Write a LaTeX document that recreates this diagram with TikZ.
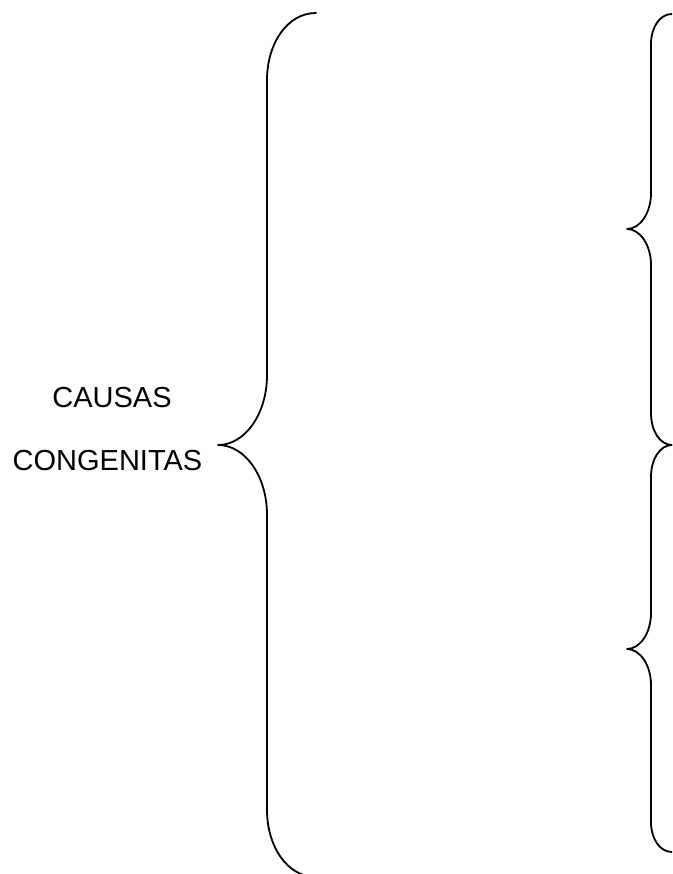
\documentclass[tikz,border=0pt]{standalone}
\usepackage{fontspec}
\setmainfont{Liberation Sans}
\begin{document}
\begin{tikzpicture}[x=1pt,y=-1pt,
  bracestyle/.style={line width=1.8pt,line join=round,line cap=round},
  labelstyle/.style={font=\fontsize{29}{34}\selectfont,anchor=base,inner sep=0pt}]
\useasboundingbox (0,0) rectangle (672,874);
\clip (0,0) rectangle (672,874);
% labels
\node[labelstyle] (causas) at (112,407) {CAUSAS};
\node[labelstyle] (congenitas) at (107.5,470) {CONGENITAS};
% large left brace
\draw[bracestyle] (316,13) .. controls (287,13) and (267,44) .. (267,80)
  -- (267,375) .. controls (267,414) and (245,445) .. (218,445)
  .. controls (245,445) and (267,476) .. (267,515)
  -- (267,810) .. controls (267,846) and (287,877) .. (316,877);
% upper right brace
\draw[bracestyle] (672,14) .. controls (660,14) and (651,27) .. (651,44)
  -- (651,193) .. controls (651,213) and (640,229) .. (627,229)
  .. controls (640,229) and (651,245) .. (651,265)
  -- (651,413) .. controls (651,431) and (660,445) .. (672,445);
% lower right brace
\draw[bracestyle] (672,445) .. controls (660,445) and (651,459) .. (651,477)
  -- (651,613) .. controls (651,633) and (640,649) .. (627,649)
  .. controls (640,649) and (651,665) .. (651,685)
  -- (651,822) .. controls (651,839) and (660,852) .. (672,852);
\end{tikzpicture}
\end{document}
